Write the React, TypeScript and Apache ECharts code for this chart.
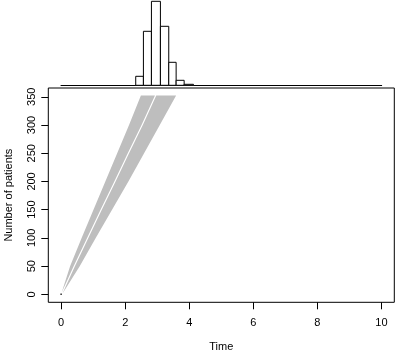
import React, { useEffect, useRef } from "react";
import * as echarts from "echarts";

// Recruitment band (simulated trajectories), read at these patient counts
const yLevels = [0, 50, 100, 150, 200, 250, 300, 352];
const leftEdge = [0.0, 0.28, 0.64, 1.01, 1.38, 1.75, 2.12, 2.49];
const gapCentre = [0.013, 0.41, 0.83, 1.25, 1.68, 2.1, 2.53, 2.95];
const rightEdge = [0.03, 0.58, 1.08, 1.59, 2.1, 2.59, 3.08, 3.59];
const gapHalf = 0.02;
const firstPatient = [[0, 0]];

// Marginal histogram of completion times
const binEdges = [2.33, 2.57, 2.82, 3.1, 3.36, 3.59, 3.84, 4.13];
const binCounts = [9, 54, 84, 59, 23, 5, 1];

// Tick labels
const xTicks = [0, 2, 4, 6, 8, 10];
const yTicks = [0, 50, 100, 150, 200, 250, 300, 350];

const FONT = "'Liberation Sans', Arial, sans-serif";

export default function App() {
  const ref = useRef<HTMLDivElement>(null);
  useEffect(() => {
    if (!ref.current) return;
    const chart = echarts.init(ref.current, null, { renderer: "svg" });

    const bands = [
      {
        lo: leftEdge,
        hi: gapCentre.map((g) => g - gapHalf),
      },
      {
        lo: gapCentre.map((g) => g + gapHalf),
        hi: rightEdge,
      },
    ];

    const option: any = {
      animation: false,
      grid: [
        {
          left: 61,
          right: 14.3,
          top: 1.3,
          height: 84,
          show: false,
          containLabel: false,
          outerBoundsMode: "none",
        },
        {
          left: 48.3,
          right: 1.7,
          top: 88,
          height: 214.3,
          show: true,
          borderColor: "#000",
          borderWidth: 1,
          containLabel: false,
          outerBoundsMode: "none",
        },
      ],
      xAxis: [
        {
          gridIndex: 0,
          type: "value",
          min: 0,
          max: 10,
          axisLine: { show: true, onZero: false, lineStyle: { color: "#000", width: 1 } },
          axisTick: { show: false },
          axisLabel: { show: false },
          splitLine: { show: false },
        },
        {
          gridIndex: 1,
          type: "value",
          min: -0.4,
          max: 10.4,
          name: "Time",
          nameLocation: "middle",
          nameGap: 38,
          nameTextStyle: { color: "#000", fontSize: 11, fontFamily: FONT },
          axisLine: { show: false, onZero: false },
          axisTick: {
            show: true,
            customValues: xTicks,
            length: 7,
            inside: false,
            lineStyle: { color: "#000", width: 1 },
          },
          axisLabel: {
            customValues: xTicks,
            color: "#000",
            fontSize: 11,
            fontFamily: FONT,
            margin: 14,
          },
          splitLine: { show: false },
        },
      ],
      yAxis: [
        {
          gridIndex: 0,
          type: "value",
          min: 0,
          max: 84,
          show: false,
        },
        {
          gridIndex: 1,
          type: "value",
          min: -14.06,
          max: 365.5,
          name: "Number of patients",
          nameLocation: "middle",
          nameGap: 35,
          nameTextStyle: { color: "#000", fontSize: 11, fontFamily: FONT },
          axisLine: { show: false, onZero: false },
          axisTick: {
            show: true,
            customValues: yTicks,
            length: 7,
            inside: false,
            lineStyle: { color: "#000", width: 1 },
          },
          axisLabel: {
            customValues: yTicks,
            rotate: 90,
            color: "#000",
            fontSize: 11,
            fontFamily: FONT,
            margin: 12,
          },
          splitLine: { show: false },
        },
      ],
      series: [
        {
          type: "custom",
          xAxisIndex: 0,
          yAxisIndex: 0,
          data: binCounts.map((c, i) => [binEdges[i], binEdges[i + 1], c]),
          encode: { x: [0, 1], y: 2 },
          renderItem: (params: any, api: any) => {
            const p0 = api.coord([api.value(0), 0]);
            const p1 = api.coord([api.value(1), api.value(2)]);
            return {
              type: "rect",
              shape: {
                x: p0[0],
                y: p1[1],
                width: p1[0] - p0[0],
                height: p0[1] - p1[1],
              },
              style: { fill: "#fff", stroke: "#000", lineWidth: 1 },
            };
          },
        },
        {
          type: "custom",
          xAxisIndex: 1,
          yAxisIndex: 1,
          clip: true,
          data: [[0, 0], [1, 0]],
          encode: { x: 0, y: 1 },
          renderItem: (params: any, api: any) => {
            const b = bands[params.dataIndex];
            const pts: number[][] = [];
            for (let i = 0; i < yLevels.length; i++) pts.push(api.coord([b.lo[i], yLevels[i]]));
            for (let i = yLevels.length - 1; i >= 0; i--) pts.push(api.coord([b.hi[i], yLevels[i]]));
            return {
              type: "polygon",
              shape: { points: pts },
              style: { fill: "#BEBEBE", stroke: "none" },
            };
          },
        },
        {
          type: "scatter",
          xAxisIndex: 1,
          yAxisIndex: 1,
          data: firstPatient,
          symbol: "rect",
          symbolSize: 1.5,
          itemStyle: { color: "#000" },
        },
      ],
    };
    chart.setOption(option);
    return () => chart.dispose();
  }, []);
  return (
    <div
      ref={ref}
      style={{ position: "fixed", left: 0, top: 0, width: 396, height: 351 }}
    />
  );
}
